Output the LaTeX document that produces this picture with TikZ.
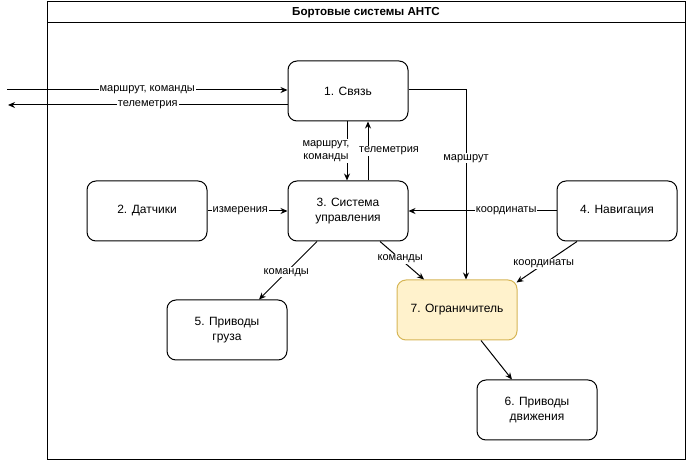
\documentclass[tikz,border=0pt]{standalone}
\usepackage{fontspec}
\setmainfont{Liberation Sans}
\usetikzlibrary{arrows.meta}
\definecolor{limfill}{HTML}{FFF2CC}
\definecolor{limline}{HTML}{D6B656}
\begin{document}
\begin{tikzpicture}
[x=1pt,y=-1pt,line width=1pt,>={Stealth[length=7pt,width=6pt]},
every node/.style={font=\fontsize{11}{13.5}\selectfont},
box/.style={draw=black,rounded corners=9pt,minimum width=120pt,minimum height=60pt,align=center,inner sep=0pt,font=\fontsize{12}{14.5}\selectfont},
lbl/.style={fill=white,inner sep=1pt,align=center}]
\useasboundingbox (0,0) rectangle (689,462);
\draw (47,2) rectangle (685,460);
\draw (47,23) -- (685,23);
\node[font=\fontsize{11.6}{14}\selectfont\bfseries] (title) at (366,12.5) {Бортовые системы АНТС};
\node[box] (1) at (348,91) {1. Связь};
\node[box] (2) at (147,211) {2. Датчики};
\node[box] (3) at (348,211) {3. Система\\управления};
\node[box] (4) at (617,211) {4. Навигация};
\node[box] (5) at (227,330) {5. Приводы\\груза};
\node[box] (6) at (537,410) {6. Приводы\\движения};
\node[box,fill=limfill,draw=limline] (7) at (457,310) {7. Ограничитель};
\coordinate (in) at (7,90);
\coordinate (out) at (8,105);
\draw[->] (in) -- node[lbl] {маршрут, команды} ([yshift=1pt]1.west);
\draw[->] ([yshift=-14pt]1.west) -- node[lbl] {телеметрия} (out);
\draw[->] ([xshift=-1pt]1.south) -- node[lbl,xshift=-21pt] {маршрут,\\команды} ([xshift=-1pt]3.north);
\draw[->] ([xshift=20pt]3.north) -- node[lbl,xshift=21pt] {телеметрия} ([xshift=20pt]1.south);
\draw[->] ([yshift=1pt]1.east) -| node[lbl,pos=0.68] {маршрут} ([xshift=9pt]7.north);
\draw[->] (2) -- node[lbl,pos=0.41] {измерения} (3);
\draw[->] (4) -- node[lbl,pos=0.34] {координаты} (3);
\draw[->] ([xshift=-40pt]4.south) -- node[lbl,pos=0.55] {координаты} ([xshift=-1pt,yshift=-3pt]7.north east);
\draw[->] ([xshift=32pt]3.south) -- node[lbl,pos=0.46] {команды} ([xshift=-33pt]7.north);
\draw[->] ([xshift=-31pt]3.south) -- node[lbl,pos=0.53] {команды} ([xshift=32pt]5.north);
\draw[->] ([xshift=24pt]7.south) -- ([xshift=-25pt]6.north);
\end{tikzpicture}
\end{document}
